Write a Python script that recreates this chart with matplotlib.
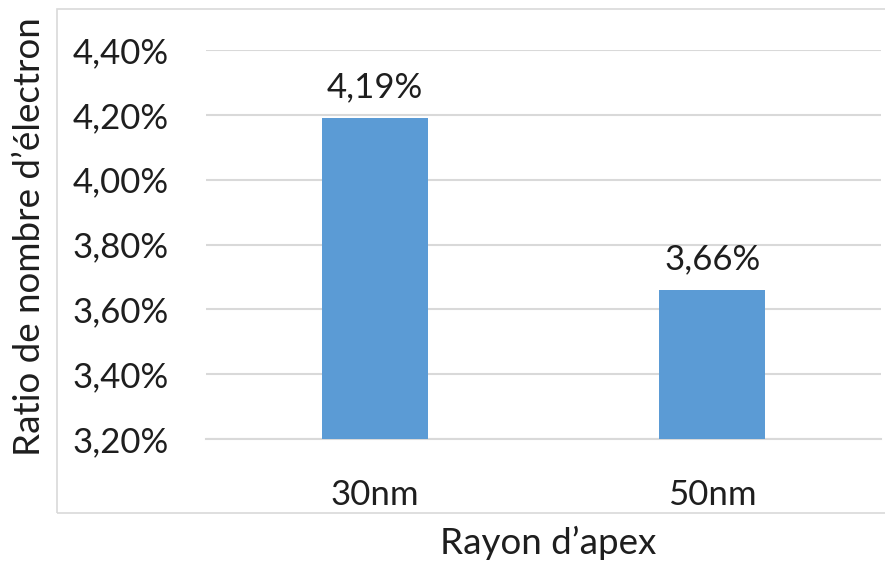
import numpy as np
import matplotlib.pyplot as plt
from matplotlib.patches import Rectangle
from matplotlib.ticker import FuncFormatter

categories = ['30nm', '50nm']
ratios = [4.19, 3.66]
labels = ['4,19%', '3,66%']

plt.rcParams['font.family'] = ['Lato', 'DejaVu Sans']
plt.rcParams['font.size'] = 25

fig = plt.figure(figsize=(8.85, 5.64), dpi=100)
ax = fig.add_axes([0.2328, 0.2216, 0.7627, 0.6897])

# outer chart frame
fig.patches.append(Rectangle((0.0644, 0.0904), 1.0, 0.894, transform=fig.transFigure,
                             fill=False, edgecolor='#d9d9d9', linewidth=1.2))

x = np.arange(len(categories))
bars = ax.bar(x, ratios, width=0.315, color='#5b9bd5', zorder=3)

for bar, lab in zip(bars, labels):
    ax.annotate(lab, (bar.get_x() + bar.get_width() / 2, bar.get_height()),
                xytext=(0, 15), textcoords='offset points',
                ha='center', va='baseline', color='#1e1e1e')

ax.set_xlim(-0.5, 1.5)
ax.set_ylim(3.2, 4.4)
ax.set_yticks(np.arange(3.2, 4.41, 0.2))
ax.yaxis.set_major_formatter(FuncFormatter(lambda v, p: f'{v:.2f}%'.replace('.', ',')))
ax.set_xticks(x)
ax.set_xticklabels(categories)
ax.tick_params(length=0, colors='#1e1e1e')
ax.tick_params(axis='y', pad=27)
ax.tick_params(axis='x', pad=29)

ax.grid(axis='y', color='#d9d9d9', linewidth=1.5, zorder=0)
for s in ['top', 'right', 'left']:
    ax.spines[s].set_visible(False)
ax.spines['bottom'].set_color('#d9d9d9')
ax.spines['bottom'].set_linewidth(1.5)

fig.text(30 / 885, 1 - 237 / 564, 'Ratio de nombre d’électron', rotation=90,
         ha='center', va='center', color='#1e1e1e', fontsize=26.5)
fig.text(548 / 885, 1 - 543 / 564, 'Rayon d’apex', ha='center', va='center',
         color='#1e1e1e', fontsize=26.5)

fig.savefig('out.png', dpi=100)
